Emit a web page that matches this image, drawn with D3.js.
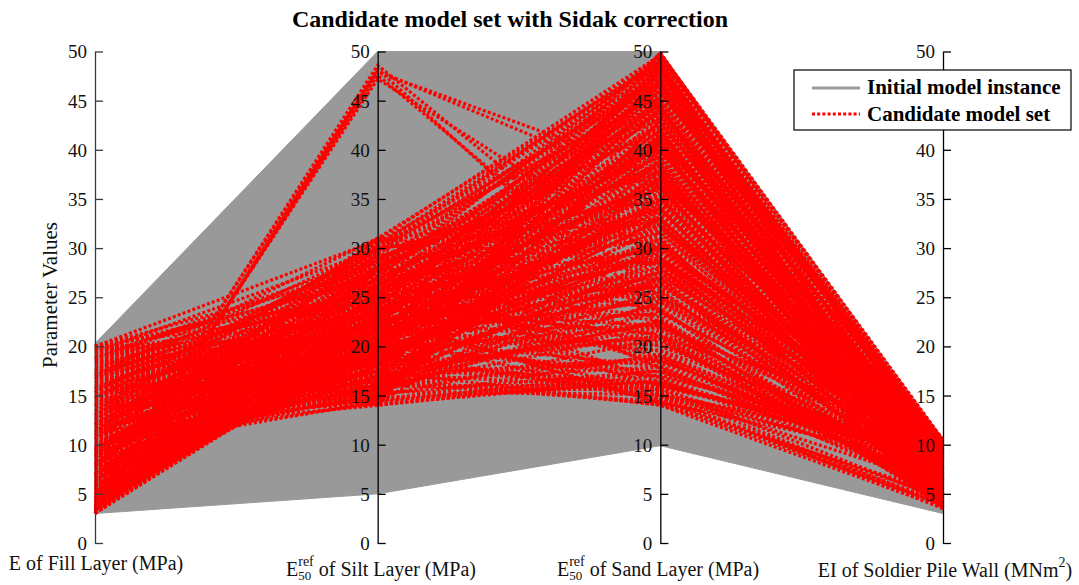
<!DOCTYPE html>
<html>
<head>
<meta charset="utf-8">
<script src="https://cdn.jsdelivr.net/npm/d3@7"></script>
<style>
  html, body { margin: 0; padding: 0; background: #fff; }
  svg { display: block; }
</style>
</head>
<body>
<svg id="chart" width="1079" height="585"></svg>
<script>
// Parallel-coordinate axes (soil / wall parameters)
const dimensions = ["fill", "silt", "sand", "wall"];
const tickValues = [0, 5, 10, 15, 20, 25, 30, 35, 40, 45, 50];

// Envelope of the initial model instances on each axis
const initialLower = [3.0, 5.0, 9.9, 3.0];
const initialUpper = [20.3, 50.0, 50.0, 10.6];

// Candidate models with a stiff silt layer
const stiffSiltSet = [
  [3.0, 48.2, 22.0, 6.5],
  [3.4, 47.6, 23.5, 8.2],
  [4.1, 48.6, 25.0, 5.1],
  [3.7, 47.2, 29.0, 9.3],
  [4.6, 48.0, 36.0, 7.4],
  [3.2, 47.9, 37.5, 4.6]
];

// Remaining candidate models: [fill, silt, sand, wall]
const candidateSet = [
  [20.0, 30.8, 49.6, 10.4], [19.4, 29.9, 48.7, 10.1], [18.7, 28.6, 47.3, 9.6], [20.0, 27.9, 45.8, 10.5],
  [17.6, 28.3, 49.1, 9.2], [16.9, 27.4, 44.1, 10.2], [19.8, 26.7, 42.6, 8.8], [15.8, 26.1, 47.9, 9.9],
  [18.1, 25.6, 40.2, 7.9], [14.6, 25.2, 46.4, 10.3], [13.9, 24.8, 43.5, 8.4], [20.0, 24.3, 38.7, 9.1],
  [12.7, 24.0, 49.8, 10.5], [11.8, 23.6, 41.3, 7.2], [17.3, 23.1, 36.9, 10.0], [10.9, 22.8, 45.1, 6.6],
  [9.7, 22.4, 48.2, 9.4], [16.2, 22.0, 34.8, 8.6], [8.8, 21.7, 39.4, 10.2], [7.6, 21.3, 44.8, 5.9],
  [6.4, 20.9, 47.0, 8.1], [5.3, 20.6, 42.0, 9.7], [4.2, 20.3, 37.6, 6.9], [3.1, 20.8, 46.1, 7.7],
  [3.6, 21.9, 33.2, 5.2], [4.8, 22.6, 40.7, 10.4], [5.9, 23.4, 30.5, 8.3], [6.9, 24.7, 43.9, 4.6],
  [3.3, 25.8, 35.6, 9.0], [4.5, 27.1, 49.3, 6.2], [7.9, 28.9, 38.1, 10.1], [9.3, 30.4, 44.4, 7.5],
  [11.2, 29.3, 32.7, 9.8], [12.9, 27.6, 48.6, 5.4], [14.1, 26.9, 36.2, 10.3], [15.5, 28.8, 41.9, 6.8],
  [16.7, 30.1, 45.3, 8.7], [18.9, 24.9, 31.4, 9.5], [19.6, 23.3, 28.6, 10.4], [17.9, 21.4, 26.3, 7.4],
  [15.1, 20.5, 33.8, 5.7], [13.3, 19.8, 39.9, 8.9], [11.6, 19.3, 46.7, 4.3], [10.4, 18.9, 29.7, 10.0],
  [9.1, 18.4, 35.1, 6.1], [8.3, 17.8, 41.6, 9.3], [7.2, 17.2, 48.4, 5.0], [6.1, 18.1, 37.0, 7.8],
  [5.0, 19.2, 31.9, 10.5], [3.9, 19.9, 27.4, 8.0], [3.0, 21.1, 24.6, 6.4], [4.3, 23.8, 22.1, 9.6],
  [5.6, 25.3, 20.4, 7.1], [6.7, 26.5, 18.3, 8.5], [8.1, 20.2, 16.9, 9.9], [9.9, 16.7, 24.3, 5.6],
  [10.8, 15.9, 30.2, 8.2], [11.9, 15.3, 36.5, 4.9], [12.6, 14.8, 42.9, 7.3], [13.7, 14.3, 47.7, 9.1],
  [14.8, 14.6, 38.9, 6.0], [15.9, 15.1, 27.8, 10.2], [16.8, 15.8, 21.6, 4.1], [18.4, 16.4, 17.9, 8.8],
  [19.9, 17.3, 15.6, 7.0], [20.0, 18.6, 23.9, 3.8], [17.1, 19.5, 29.4, 5.3], [14.4, 20.7, 34.6, 3.9],
  [12.2, 21.5, 40.8, 6.3], [10.1, 22.2, 46.9, 4.4], [8.6, 23.0, 49.0, 7.6], [7.0, 24.1, 45.6, 3.6],
  [5.4, 25.0, 41.1, 10.1], [4.0, 26.2, 38.4, 4.8], [3.5, 28.1, 43.2, 8.0], [6.2, 29.5, 47.5, 5.5],
  [9.5, 27.0, 39.3, 3.7], [12.0, 25.9, 34.0, 6.7], [15.0, 24.4, 29.0, 4.2], [18.5, 22.9, 25.5, 6.0],
  [16.0, 21.8, 19.6, 9.4], [13.5, 18.2, 16.2, 8.4], [11.0, 17.0, 18.8, 5.8], [9.0, 16.1, 22.7, 4.6],
  [8.5, 15.6, 26.9, 3.5], [10.2, 14.2, 31.7, 5.1], [11.4, 14.0, 17.1, 8.9], [12.8, 14.5, 16.4, 7.7],
  [14.2, 15.4, 15.1, 9.6], [15.6, 16.3, 14.3, 8.2], [17.5, 14.1, 16.6, 6.1], [19.0, 14.9, 20.8, 4.5],
  [20.0, 15.7, 25.8, 3.6], [18.0, 17.6, 30.9, 4.0], [16.4, 18.8, 35.4, 3.5], [14.9, 19.6, 40.4, 4.7],
  [13.1, 20.4, 44.0, 3.8], [11.5, 21.2, 48.0, 5.0], [9.8, 23.7, 36.7, 8.4], [7.4, 22.3, 33.5, 10.4],
  [5.7, 21.6, 28.1, 7.0], [4.4, 22.1, 23.3, 9.1], [3.2, 23.2, 19.5, 6.6], [3.8, 24.6, 26.0, 10.0],
  [4.9, 26.6, 31.0, 3.9], [6.6, 27.7, 35.9, 9.2], [8.0, 29.0, 40.0, 4.3], [10.6, 28.4, 43.7, 10.5],
  [13.0, 30.6, 46.5, 7.0], [15.3, 29.7, 49.4, 4.0], [17.0, 31.0, 48.9, 8.3], [19.2, 27.2, 46.8, 5.6],
  [20.0, 25.4, 44.6, 7.8], [18.3, 20.0, 41.4, 9.7], [16.6, 17.7, 37.3, 10.5], [14.0, 16.9, 32.3, 9.3],
  [12.4, 16.0, 27.1, 10.1], [10.0, 17.5, 21.1, 10.4], [7.8, 18.7, 15.8, 9.8], [6.0, 19.4, 14.6, 10.3],
  [5.2, 20.0, 17.4, 9.0], [4.1, 21.5, 20.1, 8.6], [3.4, 22.9, 14.2, 10.5], [3.0, 24.3, 16.0, 9.5],
  [5.0, 26.0, 22.6, 8.0], [7.1, 28.0, 25.1, 10.2], [11.3, 31.0, 28.3, 9.0], [14.7, 30.0, 33.6, 8.0],
  [18.8, 29.1, 37.8, 5.9], [20.0, 21.0, 39.0, 4.9], [17.7, 19.0, 43.4, 3.7], [15.2, 17.4, 47.2, 6.5],
  [12.3, 15.1, 49.9, 8.6], [9.4, 14.4, 41.8, 3.5], [10.7, 14.8, 37.9, 7.0], [13.6, 15.6, 23.6, 4.8],
  [16.1, 16.5, 28.7, 9.9], [19.4, 18.3, 32.9, 10.3], [18.6, 25.9, 35.2, 3.8], [16.3, 23.9, 30.1, 8.7],
  [13.8, 22.6, 27.5, 4.4], [11.7, 26.4, 24.8, 7.4], [8.9, 25.5, 19.0, 5.3], [7.3, 19.7, 22.0, 3.9],
  [6.5, 17.9, 26.4, 6.8], [4.6, 19.6, 30.0, 3.6], [3.3, 21.0, 34.1, 4.5], [3.7, 20.4, 39.6, 5.8],
  [5.5, 18.9, 44.2, 4.1], [8.2, 16.6, 48.8, 6.4], [12.1, 19.1, 14.9, 7.9], [15.7, 22.5, 15.2, 5.9],
  [9.6, 24.0, 16.8, 6.9], [19.7, 20.8, 18.0, 5.0], [6.8, 20.1, 20.7, 4.3], [14.5, 17.1, 21.9, 10.5],
  [17.2, 26.3, 23.0, 3.6], [10.3, 20.6, 26.2, 10.5], [12.5, 28.7, 30.8, 5.5], [8.7, 30.0, 33.0, 8.1],
  [3.1, 22.0, 28.9, 9.8], [3.9, 23.0, 32.1, 7.3], [4.7, 24.2, 36.1, 5.6], [5.8, 25.6, 39.8, 9.9],
  [6.3, 26.9, 42.4, 7.0], [7.7, 27.5, 46.0, 8.9], [8.4, 28.2, 48.1, 10.3], [9.2, 26.0, 45.0, 6.0],
  [10.5, 24.5, 41.0, 8.0], [11.1, 23.0, 37.2, 9.6], [12.3, 22.1, 33.0, 5.2], [13.2, 21.0, 29.5, 7.6],
  [14.3, 19.0, 25.0, 9.2], [15.4, 18.0, 21.0, 6.7], [16.5, 17.0, 18.5, 9.0], [17.6, 16.0, 16.0, 9.9],
  [18.7, 15.2, 17.5, 7.3], [19.8, 14.4, 19.2, 5.7], [20.0, 16.9, 22.4, 4.4], [19.1, 19.2, 26.7, 3.6],
  [18.2, 21.6, 30.3, 4.6], [17.4, 24.0, 34.3, 6.9], [16.6, 26.0, 38.3, 4.5], [15.7, 27.9, 42.2, 3.7],
  [14.8, 29.4, 45.9, 5.1], [13.4, 30.3, 49.0, 3.9], [12.0, 29.8, 47.0, 9.5], [10.9, 27.8, 44.9, 4.0],
  [9.9, 25.2, 42.7, 8.8], [8.9, 22.6, 40.6, 3.7], [7.9, 20.0, 38.5, 7.0], [6.9, 18.0, 36.4, 4.2],
  [5.9, 19.0, 34.4, 8.6], [4.9, 20.5, 32.4, 4.9], [3.9, 21.2, 30.3, 9.2], [3.0, 22.5, 26.6, 5.3],
  [3.6, 24.0, 21.2, 4.4], [4.4, 25.5, 18.6, 7.2], [5.1, 27.0, 16.3, 8.3], [6.0, 28.5, 15.0, 9.4],
  [7.5, 30.2, 17.8, 6.2], [9.0, 31.0, 20.9, 4.7], [10.6, 29.0, 23.7, 3.8], [12.1, 27.0, 26.8, 3.5],
  [13.9, 25.0, 29.9, 9.7], [15.3, 23.5, 32.5, 8.0], [16.9, 22.0, 35.5, 6.3], [18.4, 20.5, 38.0, 4.6],
  [20.0, 19.5, 40.5, 3.9], [19.3, 18.0, 43.0, 5.5], [17.8, 16.8, 45.5, 7.1], [16.2, 15.5, 48.0, 8.7],
  [14.5, 14.5, 49.5, 10.2], [12.9, 14.1, 46.0, 5.8], [11.2, 14.6, 43.0, 9.0], [10.0, 15.0, 40.0, 6.1],
  [8.8, 16.0, 37.0, 9.6], [7.7, 17.0, 34.0, 5.1], [6.6, 18.5, 31.0, 8.7], [5.5, 19.5, 28.0, 4.3],
  [4.3, 20.8, 25.0, 7.8], [3.2, 21.6, 22.0, 4.0], [3.5, 23.5, 36.5, 10.4], [4.6, 25.0, 44.5, 3.5],
  [5.7, 22.0, 48.5, 9.3], [7.0, 20.5, 42.0, 3.6], [8.2, 19.0, 39.0, 10.0], [9.7, 18.0, 33.0, 3.9],
  [11.0, 17.5, 27.5, 9.4], [12.5, 16.5, 22.5, 4.8], [14.0, 15.8, 19.0, 8.1], [15.5, 14.8, 16.0, 9.2],
  [17.0, 14.3, 17.5, 8.0], [18.5, 15.3, 24.5, 10.1], [20.0, 16.2, 29.0, 7.4], [19.0, 17.8, 35.0, 10.4],
  [17.5, 19.7, 40.8, 9.8], [16.0, 21.2, 46.5, 10.5], [14.2, 22.8, 49.7, 6.4], [12.7, 24.5, 47.5, 3.6],
  [11.0, 26.3, 44.0, 7.5], [9.4, 28.0, 41.0, 5.0], [8.0, 29.7, 37.5, 9.1], [6.8, 30.8, 34.8, 5.9],
  [5.4, 29.0, 31.5, 10.5], [4.2, 28.6, 28.5, 6.5], [3.0, 26.5, 25.5, 10.2], [3.8, 27.8, 20.0, 9.9],
  [5.0, 28.0, 23.8, 3.7], [6.1, 22.8, 27.0, 5.4], [13.0, 17.5, 14.0, 3.6], [16.0, 16.3, 14.4, 4.2],
  [11.5, 19.0, 15.0, 3.5], [18.0, 16.8, 14.1, 5.0], [9.5, 21.0, 14.6, 4.6], [14.8, 16.0, 15.5, 3.8],
  [7.0, 23.0, 14.3, 3.9], [17.0, 17.9, 15.8, 4.4]
];

const titleText = "Candidate model set with Sidak correction";
const yTitle = "Parameter Values";
const legendLabels = ["Initial model instance", "Candidate model set"];

const FONT = "'Liberation Serif', 'Times New Roman', serif";
const svg = d3.select("#chart");

const x = d3.scalePoint().domain(dimensions).range([95, 943]);
const y = d3.scaleLinear().domain([0, 50]).range([543, 51.5]);

// Legend frame, used to keep hidden tick labels out of the way
const legendBox = { x: 794, y: 70, w: 277, h: 60 };

// Initial model instance envelope
const envelope = d3.area()
  .x((d, i) => x(dimensions[i]))
  .y0((d, i) => y(initialLower[i]))
  .y1(d => y(d));
svg.append("path")
  .datum(initialUpper)
  .attr("d", envelope)
  .attr("fill", "#999999")
  .attr("stroke", "#999999")
  .attr("stroke-width", 1);

// Candidate model lines
const lineGen = d3.line()
  .x((d, i) => x(dimensions[i]))
  .y(d => y(d));
svg.append("g")
  .attr("fill", "none")
  .attr("stroke", "#ff0000")
  .attr("stroke-width", 3.2)
  .attr("stroke-dasharray", "3,2.2")
  .selectAll("path")
  .data(candidateSet.concat(stiffSiltSet))
  .join("path")
  .attr("d", lineGen);

// Axes: ticks point right, labels sit to the left
dimensions.forEach((dim, i) => {
  const ax = x(dim);
  const g = svg.append("g")
    .attr("transform", `translate(${ax},0)`)
    .call(d3.axisLeft(y).tickValues(tickValues).tickSizeInner(-8).tickSizeOuter(0).tickPadding(8));
  const col = i === 0 ? "#3a3a3a" : "#000";
  g.attr("font-size", null).attr("font-family", null);
  g.select(".domain").attr("stroke", col).attr("stroke-width", 1.3);
  g.selectAll(".tick line").attr("stroke", col).attr("stroke-width", 1.3);
  g.selectAll(".tick text")
    .attr("fill", "#111")
    .attr("font-family", FONT)
    .attr("font-size", 19)
    .attr("dy", "0.34em");
  // labels covered by the legend frame are not drawn
  g.selectAll(".tick")
    .filter(v => ax - 30 > legendBox.x && y(v) > legendBox.y - 6 && y(v) < legendBox.y + legendBox.h + 6)
    .select("text").remove();
});

// Title
svg.append("text")
  .attr("x", 510).attr("y", 27)
  .attr("text-anchor", "middle")
  .attr("font-family", FONT)
  .attr("font-size", 24)
  .attr("font-weight", "bold")
  .attr("fill", "#000")
  .text(titleText);

// Y axis title
svg.append("text")
  .attr("transform", "translate(57,295) rotate(-90)")
  .attr("text-anchor", "middle")
  .attr("font-family", FONT)
  .attr("font-size", 21)
  .attr("fill", "#111")
  .text(yTitle);

// Axis labels below each axis
function axisLabel(cx, baseline, parts) {
  const g = svg.append("g").attr("font-family", FONT).attr("fill", "#111");
  let cursor = 0;
  parts.forEach(p => {
    if (p.stack) {
      const sup = g.append("text").attr("x", cursor).attr("y", baseline - 10)
        .attr("font-size", 14).text(p.sup);
      const sub = g.append("text").attr("x", cursor).attr("y", baseline + 4)
        .attr("font-size", 13).text(p.sub);
      cursor += Math.max(sup.node().getComputedTextLength(), sub.node().getComputedTextLength());
    } else if (p.sup) {
      const t = g.append("text").attr("x", cursor).attr("y", baseline - 10)
        .attr("font-size", 14).text(p.sup);
      cursor += t.node().getComputedTextLength();
    } else {
      const t = g.append("text").attr("x", cursor).attr("y", baseline)
        .attr("font-size", 20).style("white-space", "pre").text(p.text);
      cursor += t.node().getComputedTextLength();
    }
  });
  g.attr("transform", `translate(${cx - cursor / 2},0)`);
}
axisLabel(96, 570, [{ text: "E of Fill Layer (MPa)" }]);
axisLabel(381, 576, [{ text: "E" }, { stack: true, sup: "ref", sub: "50" }, { text: " of Silt Layer (MPa)" }]);
axisLabel(658, 576, [{ text: "E" }, { stack: true, sup: "ref", sub: "50" }, { text: " of Sand Layer (MPa)" }]);
axisLabel(945, 577, [{ text: "EI of Soldier Pile Wall (MNm" }, { sup: "2" }, { text: ")" }]);

// Legend
const legend = svg.append("g");
legend.append("rect")
  .attr("x", legendBox.x).attr("y", legendBox.y).attr("width", legendBox.w).attr("height", legendBox.h)
  .attr("fill", "#fff").attr("stroke", "#000").attr("stroke-width", 1.2);
legend.append("line")
  .attr("x1", 812).attr("x2", 860).attr("y1", 88).attr("y2", 88)
  .attr("stroke", "#999999").attr("stroke-width", 3);
legend.append("line")
  .attr("x1", 812).attr("x2", 860).attr("y1", 114).attr("y2", 114)
  .attr("stroke", "#ff0000").attr("stroke-width", 3).attr("stroke-dasharray", "3,2.2");
legend.selectAll("text.lg")
  .data(legendLabels)
  .join("text")
  .attr("class", "lg")
  .attr("x", 867)
  .attr("y", (d, i) => 94 + i * 27)
  .attr("font-family", FONT)
  .attr("font-size", 21)
  .attr("font-weight", "bold")
  .attr("fill", "#000")
  .text(d => d);
</script>
</body>
</html>
